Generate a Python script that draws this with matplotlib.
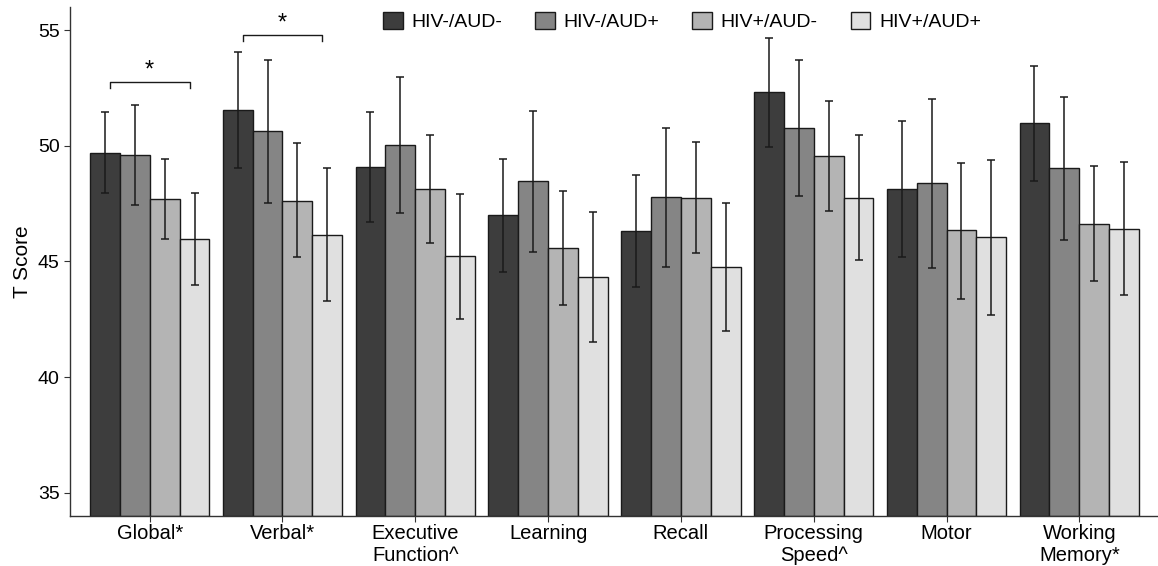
import numpy as np
import matplotlib
matplotlib.use('Agg')
import matplotlib.pyplot as plt

plt.rcParams['font.family'] = ['Liberation Sans', 'DejaVu Sans']

categories = ['Global*', 'Verbal*', 'Executive\nFunction^', 'Learning', 'Recall',
              'Processing\nSpeed^', 'Motor', 'Working\nMemory*']
groups = ['HIV-/AUD-', 'HIV-/AUD+', 'HIV+/AUD-', 'HIV+/AUD+']

# means and error bar ends
hiv_neg_aud_neg = [49.71, 51.56, 49.09, 47.00, 46.32, 52.33, 48.14, 50.97]
hiv_neg_aud_pos = [49.60, 50.62, 50.05, 48.47, 47.80, 50.77, 48.39, 49.04]
hiv_pos_aud_neg = [47.69, 47.63, 48.14, 45.58, 47.76, 49.57, 46.35, 46.63]
hiv_pos_aud_pos = [45.98, 46.16, 45.23, 44.32, 44.77, 47.76, 46.05, 46.42]

err_hi = [[51.45, 54.05, 51.45, 49.44, 48.72, 54.68, 51.06, 53.46],
          [51.77, 53.73, 52.98, 51.52, 50.77, 53.70, 52.03, 52.13],
          [49.43, 50.12, 50.48, 48.04, 50.16, 51.92, 49.27, 49.12],
          [47.98, 49.02, 47.93, 47.14, 47.53, 50.48, 49.40, 49.28]]
err_lo = [[47.98, 49.06, 46.72, 44.53, 43.90, 49.96, 45.20, 48.49],
          [47.43, 47.54, 47.11, 45.41, 44.77, 47.83, 44.74, 45.94],
          [45.96, 45.18, 45.78, 43.12, 45.35, 47.20, 43.40, 44.15],
          [43.98, 43.30, 42.53, 41.51, 42.00, 45.06, 42.68, 43.57]]

# significance brackets: (category index, height)
brackets = [(0, 52.75), (1, 54.77)]

colors = ['#3d3d3d', '#858585', '#b4b4b4', '#e0e0e0']
means = [hiv_neg_aud_neg, hiv_neg_aud_pos, hiv_pos_aud_neg, hiv_pos_aud_pos]

fig = plt.figure(figsize=(11.58, 5.66), dpi=100)
ax = fig.add_axes([70 / 1158, 50 / 566, 1089 / 1158, 509 / 566])

x = np.arange(len(categories))
w = 0.225
for i in range(4):
    xs = x + (i - 1.5) * w
    m = np.array(means[i])
    ax.bar(xs, m - 34, bottom=34, width=w, color=colors[i], edgecolor='#1a1a1a',
           linewidth=1.0, label=groups[i], zorder=2)
    lo = m - np.array(err_lo[i])
    hi = np.array(err_hi[i]) - m
    ax.errorbar(xs, m, yerr=[lo, hi], fmt='none', ecolor='#1a1a1a',
                elinewidth=1.1, capsize=3, capthick=1.1, zorder=3)

for ci, h in brackets:
    ax.plot([ci - 0.3, ci - 0.3, ci + 0.3, ci + 0.3], [h - 0.25, h, h, h - 0.25],
            color='#1a1a1a', linewidth=1.0)
    ax.text(ci, h + 0.02, '*', ha='center', va='bottom', fontsize=17)

ax.set_xlim(-0.6, 7.6)
ax.set_ylim(34, 56)
ax.set_xticks(x)
ax.set_xticklabels(categories, fontsize=14.5, linespacing=1.2)
ax.set_yticks([35, 40, 45, 50, 55])
ax.tick_params(axis='y', labelsize=14, length=4, color='#333333')
ax.tick_params(axis='x', length=4, color='#333333', pad=1.5)
ax.set_ylabel('T Score', fontsize=15)
for s in ['top', 'right']:
    ax.spines[s].set_visible(False)
for s in ['left', 'bottom']:
    ax.spines[s].set_color('#333333')
    ax.spines[s].set_linewidth(1.0)

fig.legend(loc='upper center', bbox_to_anchor=(0.589, 1.01), ncol=4, frameon=False,
           fontsize=14, handlelength=1.0, handleheight=1.0, handletextpad=0.45,
           columnspacing=1.7)

fig.savefig('out.png', dpi=100)
